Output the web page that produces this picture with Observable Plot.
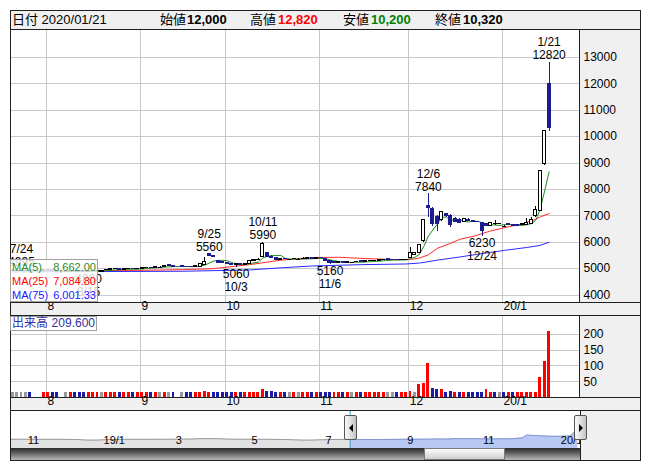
<!DOCTYPE html>
<html lang="ja"><head><meta charset="utf-8">
<script src="https://cdn.jsdelivr.net/npm/d3@7"></script>
<script src="https://cdn.jsdelivr.net/npm/@observablehq/plot@0.6"></script>
<style>
html,body{margin:0;padding:0;background:#fff;}
#root{position:relative;width:652px;height:469px;overflow:hidden;font-family:"Liberation Sans","Noto Sans CJK JP",Arial,sans-serif;}
#root .b{position:absolute;white-space:nowrap;}
#root svg{position:absolute;}
</style></head>
<body><div id="root"></div>
<script>
// ---------- header values ----------
const headerDate = "2020/01/21";
const headerLabels = ["始値", "高値", "安値", "終値"];
const headerValues = ["12,000", "12,820", "10,200", "10,320"];

// ---------- daily data (2019/07/22 - 2020/01/21) ----------
const dates = ["7/22","7/23","7/24","7/25","7/26","7/29","7/30","7/31",
"8/1","8/2","8/5","8/6","8/7","8/8","8/9","8/13","8/14","8/15","8/16","8/19","8/20","8/21","8/22","8/23","8/26","8/27","8/28","8/29","8/30",
"9/2","9/3","9/4","9/5","9/6","9/9","9/10","9/11","9/12","9/13","9/17","9/18","9/19","9/20","9/24","9/25","9/26","9/27","9/30",
"10/1","10/2","10/3","10/4","10/7","10/8","10/9","10/10","10/11","10/15","10/16","10/17","10/18","10/21","10/23","10/24","10/25","10/28","10/29","10/30","10/31",
"11/1","11/5","11/6","11/7","11/8","11/11","11/12","11/13","11/14","11/15","11/18","11/19","11/20","11/21","11/22","11/25","11/26","11/27","11/28","11/29",
"12/2","12/3","12/4","12/5","12/6","12/9","12/10","12/11","12/12","12/13","12/16","12/17","12/18","12/19","12/20","12/23","12/24","12/25","12/26","12/27","12/30",
"1/6","1/7","1/8","1/9","1/10","1/14","1/15","1/16","1/17","1/20","1/21"];

const open = [4930,4930,4930,4930,4930,null,null,4900,
4940,4950,4910,null,4880,4880,4900,4890,4880,4870,4900,4900,4880,4930,4960,4970,4980,4960,4970,4990,4980,
5000,5030,5040,5030,5060,5060,5120,5090,null,5090,5080,5070,5060,5060,5150,5540,5470,5300,5250,
5200,5170,5130,5190,5150,5180,5270,5320,5430,5580,5450,5400,5340,5360,5350,5350,5360,5360,5380,5390,5380,
5420,5380,5280,5260,5230,5250,5230,5240,5240,5270,5250,5270,5280,5290,5320,5350,5340,5330,5320,5330,
5400,5520,5580,6040,7360,7270,6950,6850,7080,7000,6890,6850,6760,6860,6800,6780,6720,6680,6620,6700,6700,
6600,6700,6660,6640,6650,6660,6700,6980,7200,8970,12000];

const high = [4950,4940,4995,4940,4930,null,null,4950,
4960,4950,4910,null,4900,4920,4900,4890,4880,4900,4920,4930,4930,4960,4980,4990,4980,4980,4990,4990,5000,
5040,5050,5050,5060,5070,5100,5130,5100,null,5100,5090,5080,5100,5200,5430,5560,5480,5320,5260,
5220,5190,5200,5200,5180,5280,5340,5380,5990,5600,5480,5410,5370,5380,5360,5370,5370,5420,5400,5400,5420,
5430,5380,5290,5270,5260,5260,5250,5250,5270,5280,5280,5290,5300,5330,5340,5360,5350,5340,5340,5350,
5810,5600,5900,6860,7840,7300,7000,7180,7100,7050,6920,6880,6900,6880,6820,6790,6750,6700,6740,6820,6720,
6620,6720,6680,6660,6720,6900,6950,7350,8700,10200,12820];

const low = [4920,4920,4930,4920,4880,null,null,4900,
4930,4900,4870,null,4870,4880,4880,4870,4870,4860,4900,4890,4870,4930,4950,4960,4950,4960,4970,4970,4980,
4990,5020,5020,5030,5050,5060,5080,5070,null,5070,5060,5050,5050,5040,5120,5460,5430,5200,5190,
5150,5120,5060,5140,5140,5180,5260,5300,5420,5440,5400,5330,5320,5340,5340,5340,5350,5360,5370,5370,5370,
5380,5260,5160,5220,5220,5220,5220,5230,5240,5240,5250,5260,5270,5290,5300,5320,5320,5310,5310,5320,
5380,5500,5560,6000,6950,6600,6420,6800,6950,6550,6740,6700,6750,6800,6760,6760,6230,6600,6600,6650,6680,
6580,6650,6600,6600,6640,6650,6680,6950,7180,8900,10200];

const close = [4930,4930,4930,4930,4900,null,null,4940,
4950,4910,4880,null,4880,4900,4890,4880,4870,4900,4910,4920,4920,4960,4970,4980,4960,4970,4990,4980,4990,
5030,5040,5030,5060,5060,5090,5090,5080,null,5080,5070,5060,5090,5190,5240,5470,5440,5210,5200,
5170,5130,5190,5150,5170,5270,5320,5330,5950,5450,5410,5340,5360,5350,5350,5360,5360,5380,5390,5380,5410,
5390,5280,5200,5230,5250,5230,5240,5240,5260,5250,5270,5280,5290,5320,5330,5330,5330,5320,5330,5340,
5580,5580,5880,6850,7300,6700,6680,7140,6990,6650,6760,6720,6880,6820,6780,6770,6440,6620,6720,6700,6700,
6600,6660,6610,6620,6700,6720,6860,7230,8700,10200,10320];

const volume = [15,15,16,15,16,null,null,15,
16,15,15,null,15,15,16,15,16,15,15,16,15,16,15,15,16,15,16,15,15,
16,15,15,16,15,15,17,15,null,15,16,15,16,17,19,16,17,16,15,
16,15,17,15,15,16,16,17,24,20,18,17,16,15,15,16,15,16,15,16,15,
16,15,17,16,15,16,15,16,15,16,15,15,16,15,16,15,17,15,16,15,
18,15,42,45,108,27,26,25,17,18,15,15,17,16,15,15,17,24,16,16,15,
15,16,15,16,15,16,17,17,63,113,209.6];

const ma5 = [4930,4930,4930,4930,4924,4918,4912,4914,
4918,4920,4916,4912,4900,4890,4886,4886,4884,4888,4890,4896,4904,4922,4936,4950,4958,4968,4974,4976,4978,
4992,5006,5014,5030,5044,5056,5066,5076,5080,5084,5080,5074,5076,5098,5130,5210,5286,5310,5312,
5298,5230,5180,5168,5162,5182,5220,5248,5408,5464,5492,5496,5502,5382,5362,5352,5356,5360,5368,5374,5384,
5390,5370,5332,5302,5270,5238,5230,5238,5244,5244,5252,5260,5270,5282,5298,5310,5320,5326,5328,5330,
5380,5430,5542,5846,6238,6462,6682,6934,6962,6832,6844,6852,6800,6766,6792,6794,6738,6686,6666,6650,6636,
6668,6676,6654,6638,6638,6662,6702,6826,7242,7942,8662];

const ma25Dates = ["7/22","8/9","8/30","9/13","9/26","10/8","10/18","10/30","11/8","11/18","11/27","12/2","12/4","12/6","12/10","12/13","12/17","12/20","12/26","1/7","1/10","1/16","1/17","1/21"];
const ma25Values = [4935,4925,4935,4960,5000,5150,5320,5420,5430,5380,5340,5345,5400,5520,5770,5960,6110,6220,6430,6590,6690,6870,6960,7085];
const ma75Dates = ["7/22","8/20","9/13","10/8","10/18","10/30","11/15","11/29","12/4","12/10","12/17","12/24","1/6","1/14","1/17","1/21"];
const ma75Values = [4875,4890,4900,4950,5030,5100,5150,5175,5210,5320,5440,5570,5690,5800,5880,6001];

const maLegendNames = ["MA(5)", "MA(25)", "MA(75)"];
const maLegendValues = ["8,662.00", "7,084.80", "6,001.33"];
const volumeLegendName = "出来高";
const volumeLegendValue = "209.600";

// high / low markers
const markDates = ["7/24","8/15","9/25","10/3","10/11","11/6","12/6","12/24","1/21"];
const markValues = [4995,4860,5560,5060,5990,5160,7840,6230,12820];
const markKinds = ["high","low","high","low","high","low","high","low","high"];

// axes
const monthLabels = ["8","9","10","11","12","20/1"];
const priceTicks = [4000,5000,6000,7000,8000,9000,10000,11000,12000,13000];
const volumeTicks = [50,100,150,200];

// navigator (trading-day offset from 2019/07/24, value)
const navIndex = [-181,-176,-171,-166,-161,-156,-151,-146,-141,-136,-131,-126,-121,-116,-111,-106,-101,-96,-91,-86,-81,-76,-71,-66,-61,-56,-51,-46,-41,-36,-31,-26,-21,-16,-11,-6,-2,4,9,14,19,24,29,34,39,44,49,54,59,64,69,74,79,84,89,91,94,99,104,109,114,116,117,118];
const navValues = [5000,5050,5000,5020,4980,5000,4950,4900,4600,4550,4800,4950,4980,5000,4980,5020,5000,5050,5100,5150,5350,5400,5300,5100,5050,5000,5020,5000,4950,4900,4700,4550,4600,4800,4900,4920,4930,4920,4890,4880,4960,4990,5030,5080,5090,5210,5150,5400,5350,5390,5200,5240,5290,5320,5880,7300,7140,6880,6620,6660,6860,8700,10200,10320];
const navTickIdx = [-173,-133,-95,-55,-16,27,67,108];
const navTickLabels = ["11","19/1","3","5","7","9","11","20/1"];

// ---------- build ----------
const root = document.getElementById("root");
const FONT = '"Liberation Sans Narrow","Liberation Sans",Arial,sans-serif';
const GRID = "#c8c8c8", DOWN = "#1c1c8f", RED = "#ff0000", VBLUE = "#1c1ca6", VGRAY = "#9a9a9a";
const C5 = "#1f8a1f", C25 = "#ff2a2a", C75 = "#2a2aff";
const PANEL = "#f0f0f0", LINE = "#202020";

function box(x, y, w, h, style) {
  const d = document.createElement("div");
  d.className = "b";
  Object.assign(d.style, {left: x + "px", top: y + "px", width: w + "px", height: h + "px"}, style || {});
  root.appendChild(d);
  return d;
}
function txt(x, y, s, style) {
  const d = document.createElement("div");
  d.className = "b";
  d.textContent = s;
  Object.assign(d.style, {left: x + "px", top: y + "px"}, style || {});
  root.appendChild(d);
  return d;
}
function place(svg, x, y) {
  svg.style.left = x + "px"; svg.style.top = y + "px";
  root.appendChild(svg);
}

const K = Object.fromEntries(dates.map((d, k) => [d, k]));
const rows = dates.map((d, k) => ({k, d, o: open[k], h: high[k], l: low[k], c: close[k], v: volume[k], m5: ma5[k]}));
const trade = rows.filter(r => r.o != null);
let prevClose = null;
for (const r of trade) { r.pc = prevClose; prevClose = r.c; }
const volColor = r => (r.pc == null || r.c === r.pc) ? VGRAY : (r.c > r.pc ? RED : VBLUE);
const monthK = rows.filter((r, k) => k > 0 && r.d.split("/")[0] !== rows[k - 1].d.split("/")[0]).map(r => r.k);
const ma25Pts = ma25Dates.map((d, j) => ({k: K[d], v: ma25Values[j]}));
const ma75Pts = ma75Dates.map((d, j) => ({k: K[d], v: ma75Values[j]}));
const markPts = markDates.map((d, j) => ({k: K[d], d, v: markValues[j], kind: markKinds[j]}));
const highs = markPts.filter(m => m.kind === "high");
const lows = markPts.filter(m => m.kind === "low");
const XDOM = [-0.46, 126.8];

// backgrounds
box(10, 10, 631, 19, {background: PANEL});
box(579, 29, 62, 273, {background: PANEL});
box(10, 302, 631, 13, {background: PANEL});
box(579, 315, 62, 82, {background: PANEL});
box(10, 397, 631, 13, {background: PANEL});
box(580, 410, 61, 50, {background: PANEL});

// main price panel
const mainSvg = Plot.plot({
  width: 630, height: 286,
  marginTop: 0, marginRight: 61, marginBottom: 13, marginLeft: 0,
  style: {background: "transparent", fontFamily: FONT, fontSize: "12px", color: "#000"},
  x: {domain: XDOM, axis: null},
  y: {domain: [3716, 14060], axis: null},
  color: {type: "identity"},
  marks: [
    Plot.ruleY(priceTicks, {stroke: GRID, shapeRendering: "crispEdges"}),
    Plot.ruleX(monthK, {x: d => d - 0.4, stroke: GRID, shapeRendering: "crispEdges"}),
    Plot.line(ma75Pts, {x: "k", y: "v", stroke: C75, strokeWidth: 1}),
    Plot.line(ma25Pts, {x: "k", y: "v", stroke: C25, strokeWidth: 1}),
    Plot.line(rows, {x: "k", y: "m5", stroke: C5, strokeWidth: 1}),
    Plot.ruleX(trade, {x: "k", y1: "l", y2: "h", stroke: r => r.c < r.o ? DOWN : "#000", shapeRendering: "crispEdges"}),
    Plot.rect(trade.filter(r => r.o !== r.c), {
      x1: r => r.k - 0.34, x2: r => r.k + 0.34,
      y1: r => Math.min(r.o, r.c), y2: r => Math.max(r.o, r.c),
      fill: r => r.c > r.o ? "#ffffff" : DOWN,
      stroke: r => r.c > r.o ? "#000000" : DOWN, strokeWidth: 1, shapeRendering: "crispEdges"
    }),
    Plot.ruleY(trade.filter(r => r.o === r.c), {y: "o", x1: r => r.k - 0.45, x2: r => r.k + 0.45, stroke: "#000", shapeRendering: "crispEdges"}),
    Plot.text(highs, {x: "k", y: "v", text: m => String(m.v), dy: -7}),
    Plot.text(highs, {x: "k", y: "v", text: "d", dy: -20}),
    Plot.text(lows, {x: "k", y: "v", text: m => String(m.v), dy: 7}),
    Plot.text(lows, {x: "k", y: "v", text: "d", dy: 20}),
    Plot.text(priceTicks, {y: d => d, frameAnchor: "right", textAnchor: "start", dx: 4, text: d => String(d)}),
    Plot.text(monthK, {x: d => d - 0.4, frameAnchor: "bottom", dy: 7, dx: 1, textAnchor: "start", text: (d, j) => monthLabels[j]})
  ]
});
place(mainSvg, 10, 29);

// volume panel
const volSvg = Plot.plot({
  width: 630, height: 95,
  marginTop: 0, marginRight: 61, marginBottom: 13, marginLeft: 0,
  style: {background: "transparent", fontFamily: FONT, fontSize: "12px", color: "#000"},
  x: {domain: XDOM, axis: null},
  y: {domain: [0, 260], axis: null},
  color: {type: "identity"},
  marks: [
    Plot.ruleY(volumeTicks, {stroke: GRID, shapeRendering: "crispEdges"}),
    Plot.ruleX(monthK, {x: d => d - 0.4, stroke: GRID, shapeRendering: "crispEdges"}),
    Plot.rect(trade, {x1: r => r.k - 0.33, x2: r => r.k + 0.33, y1: 0, y2: "v", fill: volColor, shapeRendering: "crispEdges"}),
    Plot.text(volumeTicks, {y: d => d, frameAnchor: "right", textAnchor: "start", dx: 4, text: d => String(d)}),
    Plot.text(monthK, {x: d => d - 0.4, frameAnchor: "bottom", dy: 7, dx: 1, textAnchor: "start", text: (d, j) => monthLabels[j]})
  ]
});
place(volSvg, 10, 315);

// navigator
const navPts = navIndex.map((i, j) => ({i, v: navValues[j]}));
const navBefore = navPts.filter(p => p.i <= -2);
const navSel = navPts.filter(p => p.i >= -2);
const navSvg = Plot.plot({
  width: 570, height: 38, margin: 0,
  style: {background: "transparent", fontFamily: FONT, fontSize: "11px", color: "#000"},
  x: {domain: [-181, 119.4], axis: null},
  y: {domain: [0, 20700], axis: null},
  marks: [
    Plot.areaY(navBefore, {x: "i", y: "v", fill: "#e2e2e2"}),
    Plot.areaY(navSel, {x: "i", y: "v", fill: "#b8c8f5"}),
    Plot.line(navBefore, {x: "i", y: "v", stroke: "#9a9a9a", strokeWidth: 1}),
    Plot.line(navSel, {x: "i", y: "v", stroke: "#8494cc", strokeWidth: 1}),
    Plot.ruleX([-2, 119.4], {stroke: "#3aa0d6"}),
    Plot.text(navTickIdx, {x: d => d, frameAnchor: "bottom", dy: -5, dx: 2, textAnchor: "start", text: (d, j) => navTickLabels[j]})
  ]
});
place(navSvg, 10, 410);

// scrollbar
box(10, 448, 570, 12, {background: "linear-gradient(#2a2a2a, #5e5e5e 40%, #b8b8b8)"});
box(424, 448, 81, 12, {background: "linear-gradient(#fcfcfc, #cfcfcf)", border: "1px solid #7a7a7a", boxSizing: "border-box"});

// frame lines
box(10, 10, 631, 1, {background: LINE});
box(10, 460, 631, 1, {background: LINE});
box(10, 10, 1, 451, {background: LINE});
box(640, 10, 1, 451, {background: LINE});
for (const y of [29, 302, 315, 397, 410]) box(10, y, 631, 1, {background: LINE});
box(579, 29, 1, 273, {background: LINE});
box(579, 315, 1, 82, {background: LINE});
box(580, 410, 1, 51, {background: LINE});

// header
const hs = {fontSize: "13px", lineHeight: "19px", color: "#000"};
txt(12, 10, "日付 " + headerDate, hs);
const hx = [160, 250, 343, 435], vx = [187, 278, 371, 463];
const hcol = ["#000", "#ff0000", "#008000", "#000"];
headerLabels.forEach((s, j) => {
  txt(hx[j], 10, s, hs);
  txt(vx[j], 10, headerValues[j], Object.assign({}, hs, {color: hcol[j], fontWeight: "bold"}));
});

// MA legend
box(10, 259, 88, 43, {background: "rgba(255,255,255,0.8)", border: "1px solid #a0a0a0", boxSizing: "border-box"});
const mcol = [C5, "#ff0000", "#2020ff"];
maLegendNames.forEach((s, j) => {
  const st = {fontSize: "11px", lineHeight: "14px", color: mcol[j]};
  txt(12, 260 + j * 14, s, st);
  txt(50, 260 + j * 14, maLegendValues[j], Object.assign({}, st, {width: "46px", textAlign: "right"}));
});

// volume legend
box(10, 316, 87, 15, {background: "#fff", border: "1px solid #a0a0a0", boxSizing: "border-box"});
txt(12, 316, volumeLegendName, {fontSize: "12px", lineHeight: "15px", color: "#3030a0"});
txt(50, 316, volumeLegendValue, {fontSize: "12px", lineHeight: "15px", color: "#3030a0", width: "45px", textAlign: "right"});

// navigator handles
function handle(x, dir) {
  const h = box(x, 415, 13, 25, {background: "linear-gradient(90deg,#fafafa,#c4c4c4)", border: "1px solid #555", boxSizing: "border-box", borderRadius: "2px"});
  const a = document.createElement("div");
  Object.assign(a.style, {position: "absolute", left: "4px", top: "8px", width: "0", height: "0",
    borderTop: "4px solid transparent", borderBottom: "4px solid transparent"});
  if (dir < 0) a.style.borderRight = "4px solid #000"; else a.style.borderLeft = "4px solid #000";
  h.appendChild(a);
}
handle(344, -1);
handle(574, 1);
</script>
</body></html>
